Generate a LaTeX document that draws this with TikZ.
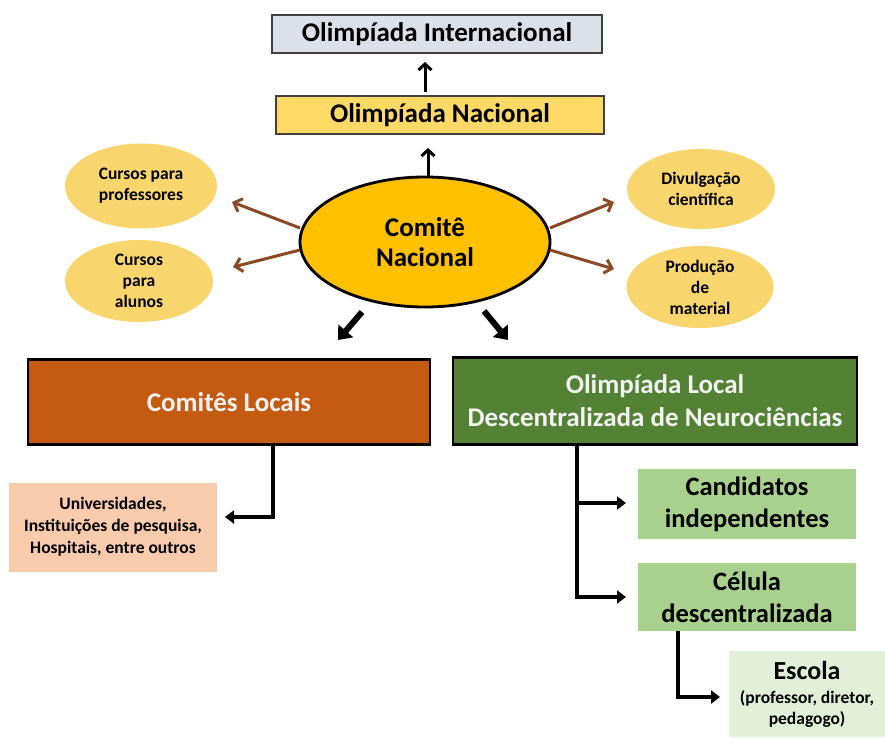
\documentclass[tikz,border=0pt]{standalone}
\usepackage{fontspec}
\setmainfont{Carlito}
\usetikzlibrary{arrows.meta,shapes.geometric}
\definecolor{intl}{HTML}{DCE0E8}
\definecolor{nac}{HTML}{FFD966}
\definecolor{gold}{HTML}{FFC000}
\definecolor{ell}{HTML}{F9D56E}
\definecolor{brownarr}{HTML}{8B4A25}
\definecolor{orangebox}{HTML}{C55A11}
\definecolor{greenbox}{HTML}{548235}
\definecolor{greenlight}{HTML}{A9D18E}
\definecolor{greenpale}{HTML}{E2F0D9}
\definecolor{peach}{HTML}{F8CBAD}
\definecolor{lighttext}{HTML}{F2F2F2}
\tikzset{
  topbox/.style={draw=black!75, line width=1.5pt, minimum height=38pt, inner sep=0pt, font=\fontsize{27}{30}\selectfont\bfseries},
  sideell/.style={ellipse, fill=ell, draw=none, font=\fontsize{17.5}{21}\selectfont\bfseries, align=center, inner sep=0pt},
  bigbox/.style={draw=black, line width=2.5pt, font=\fontsize{27}{33}\selectfont\bfseries, align=center, inner sep=0pt},
  subbox/.style={draw=none, align=center, inner sep=0pt},
  brownarrow/.style={draw=brownarr, line width=3pt, -{Straight Barb[length=7pt,width=14pt]}},
  blackarrow/.style={draw=black, line width=3.5pt, -{Triangle[length=9pt,width=13pt]}},
  fatarrow/.style={draw=black, line width=6pt, -{Triangle[length=12pt,width=19pt]}},
  uparrow/.style={draw=black, line width=3pt, -{Straight Barb[length=6pt,width=13pt]}}
}
\begin{document}
\begin{tikzpicture}[x=1pt,y=-1pt]
\useasboundingbox (0,0) rectangle (885,737);

\node[topbox, fill=intl, minimum width=330pt] (intl) at (437,34) {Olimpíada Internacional};
\node[topbox, fill=nac, minimum width=328pt] (nac) at (440,115) {Olimpíada Nacional};

\node[ellipse, fill=gold, draw=black, line width=2.8pt, minimum width=250pt, minimum height=130pt,
      font=\fontsize{27}{30}\selectfont\bfseries, align=center, inner sep=0pt] (cn) at (425,242) {Comitê\\Nacional};

\node[sideell, minimum width=152pt, minimum height=85pt] (cprof) at (141,186) {Cursos para\\professores};
\node[sideell, minimum width=148pt, minimum height=82pt] (calun) at (139,281) {Cursos\\para\\alunos};
\node[sideell, minimum width=148pt, minimum height=80pt] (divul) at (701,189) {Divulgação\\científica};
\node[sideell, minimum width=147pt, minimum height=82pt] (prod) at (700,287) {Produção\\de\\material};

\coordinate (cnl1) at (300,228);
\coordinate (cnl2) at (300,250);
\coordinate (cnr1) at (550,228);
\coordinate (cnr2) at (550,250);
\coordinate (cprofE) at (232,202);
\coordinate (calunE) at (233,267);
\coordinate (divulW) at (614,202);
\coordinate (prodW) at (614,269);
\draw[brownarrow] (cnl1) -- (cprofE);
\draw[brownarrow] (cnl2) -- (calunE);
\draw[brownarrow] (cnr1) -- (divulW);
\draw[brownarrow] (cnr2) -- (prodW);

\coordinate (up1s) at (425,92);
\coordinate (up1e) at (425,62);
\coordinate (up2s) at (428,177);
\coordinate (up2e) at (428,148);
\draw[uparrow] (up1s) -- (up1e);
\draw[uparrow] (up2s) -- (up2e);

\node[bigbox, fill=orangebox, text=lighttext, minimum width=402pt, minimum height=85pt] (cl) at (229,402) {Comitês Locais};
\node[bigbox, fill=greenbox, text=lighttext, minimum width=404pt, minimum height=87pt] (ol) at (655,401) {Olimpíada Local\\Descentralizada de Neurociências};

\coordinate (cnsw) at (362,312);
\coordinate (cnse) at (484,311);
\draw[fatarrow] (cnsw) -- (338,340);
\draw[fatarrow] (cnse) -- (508,340);

\node[subbox, fill=peach, minimum width=208pt, minimum height=89pt, font=\fontsize{17.5}{22}\selectfont\bfseries] (univ) at (113,527) {Universidades,\\Instituições de pesquisa,\\Hospitais, entre outros};
\draw[blackarrow] (cl.south -| 273,0) |- (225,517) coordinate (univE);

\node[subbox, fill=greenlight, minimum width=218pt, minimum height=70pt, font=\fontsize{26.5}{32}\selectfont\bfseries] (cand) at (747,504) {Candidatos\\independentes};
\node[subbox, fill=greenlight, minimum width=218pt, minimum height=68pt, font=\fontsize{26.5}{32}\selectfont\bfseries] (cel) at (747,597) {Célula\\descentralizada};
\node[subbox, fill=greenpale, minimum width=156pt, minimum height=86pt, align=center, font=\fontsize{17.5}{21}\selectfont\bfseries] (esc) at (807,694)
  {{\fontsize{26}{28}\selectfont Escola}\\[3pt](professor, diretor,\\pedagogo)};

\coordinate (olS) at (577,444);
\coordinate (branch2) at (577,597);
\draw[line width=4.5pt] (olS) -- (branch2);
\draw[blackarrow] (577,503) -- (626,503);
\draw[blackarrow] (575,597) -- (626,597);
\draw[blackarrow] (cel.south -| 678,0) |- (720,697);
\end{tikzpicture}
\end{document}
